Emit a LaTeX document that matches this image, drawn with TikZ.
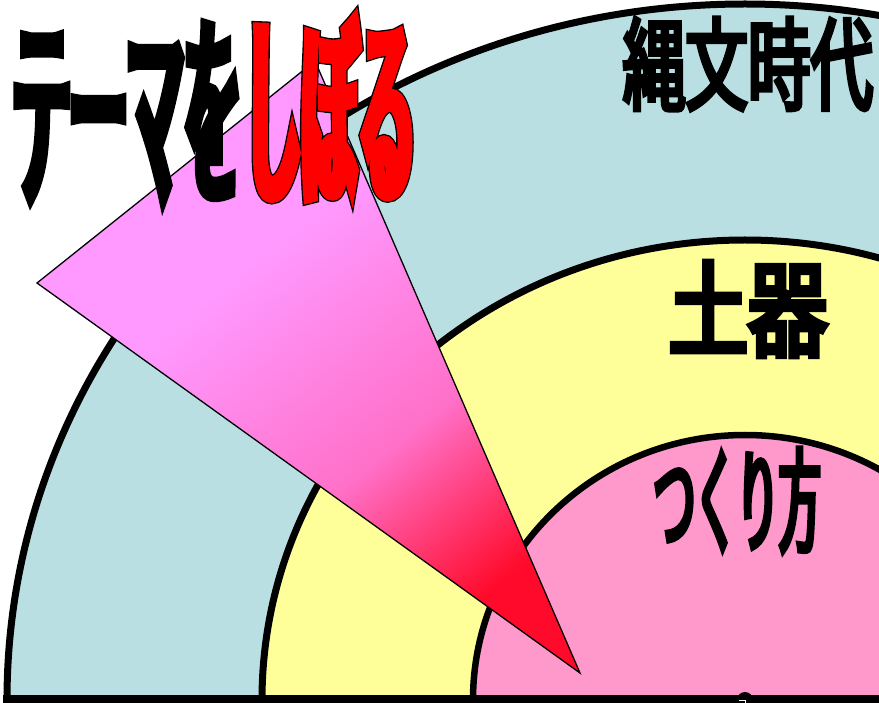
\documentclass[tikz,border=0pt]{standalone}
\usepackage{fontspec}
\newfontfamily\jpTitle{Noto Sans CJK JP}[FakeStretch=0.278, FakeBold=5]
\newfontfamily\jpTitleLine{Noto Sans CJK JP}[FakeStretch=0.278, FakeBold=6.3]
\newfontfamily\jpJomon{Noto Sans CJK JP}[FakeStretch=0.62, FakeBold=4]
\newfontfamily\jpDoki{Noto Sans CJK JP}[FakeStretch=0.77, FakeBold=5.8]
\newfontfamily\jpTsukuri{Noto Sans CJK JP}[FakeStretch=0.37, FakeBold=4]
\definecolor{ringblue}{HTML}{B9DFE3}
\definecolor{ringyellow}{HTML}{FFFF99}
\definecolor{ringpink}{HTML}{FF99CC}
\definecolor{triA}{HTML}{FF99FF}
\definecolor{triB}{HTML}{FF70C8}
\definecolor{triC}{HTML}{FF0A2A}
\pgfdeclarehorizontalshading{trishade}{100bp}{color(0bp)=(triA); color(40bp)=(triA); color(60bp)=(triB); color(75bp)=(triC); color(100bp)=(triC)}
\tikzset{
  ring/.style={draw=black, line width=7pt},
  titlefont/.style={inner sep=0pt, font={\jpTitle\fontsize{205pt}{205pt}\selectfont}},
  titlelinefont/.style={inner sep=0pt, font={\jpTitleLine\fontsize{205pt}{205pt}\selectfont}},
  jomonfont/.style={inner sep=0pt, font={\jpJomon\fontsize{101pt}{101pt}\selectfont}},
  dokifont/.style={inner sep=0pt, font={\jpDoki\fontsize{103pt}{103pt}\selectfont}},
  tsukurifont/.style={inner sep=0pt, font={\jpTsukuri\fontsize{113pt}{113pt}\selectfont}},
}
\begin{document}
\begin{tikzpicture}[x=1pt,y=-1pt]
\useasboundingbox (0,0) rectangle (879,703);
\begin{scope}
\clip (0,0) rectangle (879,703);
\filldraw[ring, fill=ringblue] (745,700) ellipse [x radius=738, y radius=696];
\filldraw[ring, fill=ringyellow] (745,700) ellipse [x radius=483, y radius=460];
\filldraw[ring, fill=ringpink, line width=6.5pt] (745,700) ellipse [x radius=272, y radius=265];
\fill[black] (3,695) rectangle (879,703);
\fill[black] (745,700) circle [radius=8];
\draw[white, line width=1pt] (739,700.5) -- (745,700.5) -- (745,703);
\shade[shading=trishade, shading angle=-51] (37,283) -- (315,61) -- (580,673) -- cycle;
\draw[black, line width=1.3pt, line join=miter] (37,283) -- (315,61) -- (580,673) -- cycle;
\end{scope}
\node[titlefont] (tema) at (127,111) {テーマを};
\node[titlelinefont] (shiboline) at (330,109) {しぼる};
\node[titlefont, text=red] (shibo) at (330,109) {しぼる};
\node[jomonfont] (jomon) at (748,64) {縄文時代};
\node[dokifont] (doki) at (748,309) {土器};
\node[tsukurifont] (tsukuri) at (737,500) {つくり方};
\end{tikzpicture}
\end{document}
